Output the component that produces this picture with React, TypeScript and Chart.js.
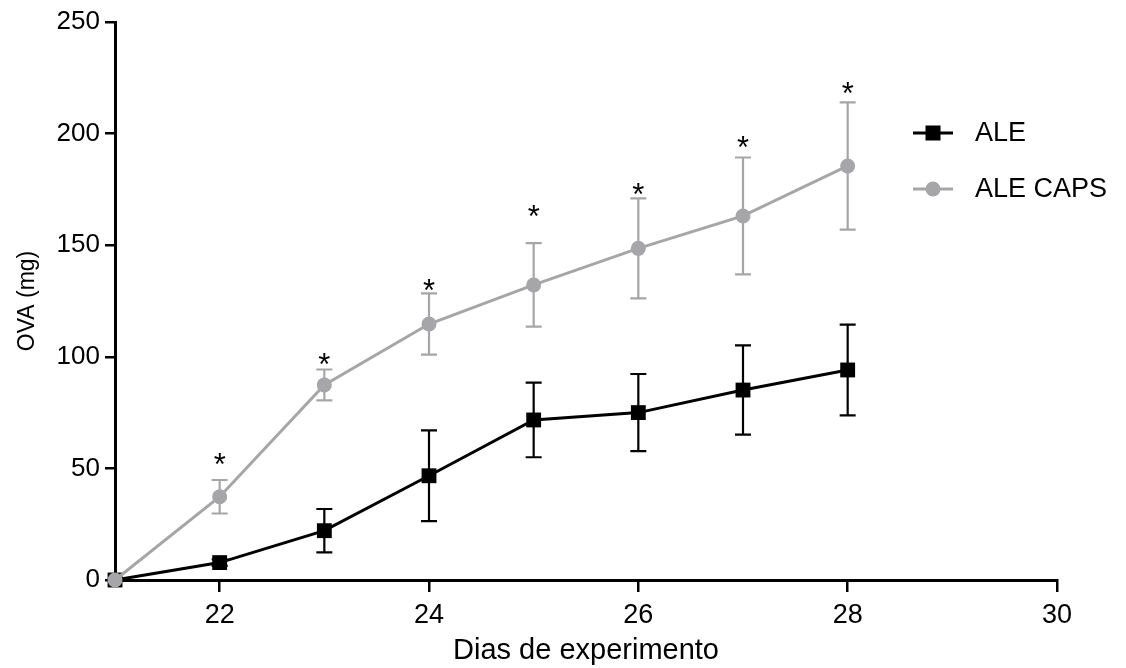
import { useEffect, useRef } from 'react';
import { Chart, registerables } from 'chart.js';

Chart.register(...registerables);

// ---- data ----
const days = [21, 22, 23, 24, 25, 26, 27, 28];
const aleMean = [0, 7.8, 22.1, 46.7, 71.7, 75.0, 85.1, 94.1];
const aleSem = [0, 1.5, 9.7, 20.3, 16.7, 17.3, 20.0, 20.3];
const capsMean = [0, 37.3, 87.4, 114.7, 132.2, 148.6, 163.1, 185.5];
const capsSem = [0, 7.5, 6.9, 13.7, 18.7, 22.4, 26.2, 28.5];
const capsStarLevel = [null, 55.1, 99.9, 133.0, 166.2, 176.1, 197.1, 221.3];
const xTicks = [22, 24, 26, 28, 30];
const yTicks = [0, 50, 100, 150, 200, 250];
const seriesLabels = ['ALE', 'ALE CAPS'];
const xTitle = 'Dias de experimento';
const yTitle = 'OVA (mg)';

const BLACK = '#000000';
const GREY = '#a6a6a8';
const FONT = '"Liberation Sans", Arial, sans-serif';

function drawMarker(ctx: CanvasRenderingContext2D, style: string, x: number, y: number, color: string) {
  ctx.save();
  ctx.fillStyle = color;
  if (style === 'rect') {
    ctx.fillRect(x - 7.5, y - 7.5, 15, 15);
  } else {
    ctx.beginPath();
    ctx.arc(x, y, 7.5, 0, Math.PI * 2);
    ctx.fill();
  }
  ctx.restore();
}

const errorBarsPlugin = {
  id: 'errorBars',
  beforeDatasetsDraw(chart: any) {
    const { ctx, scales } = chart;
    const x = scales.x;
    const y = scales.y;
    chart.data.datasets.forEach((ds: any) => {
      const sem: number[] = ds.sem;
      const mean: number[] = ds.mean;
      ctx.save();
      ctx.strokeStyle = ds.borderColor;
      ctx.lineWidth = 2.2;
      mean.forEach((v: number, i: number) => {
        const e = sem[i];
        if (!e) return;
        const px = x.getPixelForValue(days[i]);
        const top = y.getPixelForValue(v + e);
        const bot = y.getPixelForValue(v - e);
        ctx.beginPath();
        ctx.moveTo(px, top);
        ctx.lineTo(px, bot);
        ctx.moveTo(px - 8, top);
        ctx.lineTo(px + 8, top);
        ctx.moveTo(px - 8, bot);
        ctx.lineTo(px + 8, bot);
        ctx.stroke();
      });
      ctx.restore();
    });
  },
};

const starsPlugin = {
  id: 'stars',
  afterDatasetsDraw(chart: any) {
    const { ctx, scales } = chart;
    const size = 31;
    ctx.save();
    ctx.fillStyle = BLACK;
    ctx.font = `${size}px ${FONT}`;
    ctx.textAlign = 'center';
    ctx.textBaseline = 'alphabetic';
    capsStarLevel.forEach((lv, i) => {
      if (lv == null) return;
      const px = scales.x.getPixelForValue(days[i]);
      const py = scales.y.getPixelForValue(lv);
      ctx.fillText('*', px, py + size * 0.57);
    });
    ctx.restore();
  },
};

const legendPlugin = {
  id: 'customLegend',
  afterDraw(chart: any) {
    const { ctx, chartArea } = chart;
    const rows = [
      { label: seriesLabels[0], color: BLACK, style: 'rect', dy: 111 },
      { label: seriesLabels[1], color: GREY, style: 'circle', dy: 167 },
    ];
    ctx.save();
    rows.forEach((r) => {
      const y = chartArea.top + r.dy;
      const x0 = chartArea.right - 144;
      const x1 = chartArea.right - 104;
      ctx.strokeStyle = r.color;
      ctx.lineWidth = 3;
      ctx.beginPath();
      ctx.moveTo(x0, y);
      ctx.lineTo(x1, y);
      ctx.stroke();
      drawMarker(ctx, r.style, (x0 + x1) / 2, y, r.color);
      ctx.fillStyle = BLACK;
      ctx.font = `27px ${FONT}`;
      ctx.textAlign = 'left';
      ctx.textBaseline = 'middle';
      ctx.fillText(r.label, chartArea.right - 82, y + 1);
    });
    ctx.restore();
  },
};

export default function App() {
  const canvasRef = useRef<HTMLCanvasElement | null>(null);

  useEffect(() => {
    document.body.style.margin = '0';
    const canvas = canvasRef.current;
    if (!canvas) return;
    const chart = new Chart(canvas, {
      type: 'line',
      data: {
        labels: days,
        datasets: [
          {
            label: seriesLabels[0],
            data: days.map((d, i) => ({ x: d, y: aleMean[i] })),
            mean: aleMean,
            sem: aleSem,
            borderColor: BLACK,
            backgroundColor: BLACK,
            borderWidth: 3,
            pointStyle: 'rect',
            pointRadius: 10.5,
            pointBorderWidth: 0,
            pointHoverRadius: 10.5,
            tension: 0,
            clip: false,
            order: 1,
          } as any,
          {
            label: seriesLabels[1],
            data: days.map((d, i) => ({ x: d, y: capsMean[i] })),
            mean: capsMean,
            sem: capsSem,
            borderColor: GREY,
            backgroundColor: GREY,
            borderWidth: 3,
            pointStyle: 'circle',
            pointRadius: 7.5,
            pointBorderWidth: 0,
            pointHoverRadius: 7.5,
            tension: 0,
            clip: false,
            order: 0,
          } as any,
        ],
      },
      options: {
        animation: false,
        responsive: false,
        devicePixelRatio: 1,
        layout: { padding: { left: 0, top: 22, right: 69, bottom: 0 } },
        plugins: { legend: { display: false }, tooltip: { enabled: false } },
        scales: {
          x: {
            type: 'linear',
            min: 21,
            max: 30,
            afterBuildTicks: (s: any) => {
              s.ticks = xTicks.map((v) => ({ value: v }));
            },
            afterFit: (s: any) => {
              s.height = 88;
            },
            grid: { drawOnChartArea: false, drawTicks: true, tickLength: 12, color: BLACK, lineWidth: 2.5 },
            border: { display: true, color: BLACK, width: 3 },
            ticks: { color: BLACK, font: { family: FONT, size: 27 }, padding: 7, maxRotation: 0, autoSkip: false },
            title: {
              display: true,
              text: xTitle,
              color: BLACK,
              font: { family: FONT, size: 29, lineHeight: 1 },
              padding: { top: 0, bottom: 3 },
            },
          },
          y: {
            type: 'linear',
            min: 0,
            max: 250,
            afterBuildTicks: (s: any) => {
              s.ticks = yTicks.map((v) => ({ value: v }));
            },
            afterFit: (s: any) => {
              s.width = 115;
            },
            grid: { drawOnChartArea: false, drawTicks: true, tickLength: 10, color: BLACK, lineWidth: 2.5 },
            border: { display: true, color: BLACK, width: 3 },
            ticks: { color: BLACK, font: { family: FONT, size: 26 }, padding: 5 },
            title: {
              display: true,
              text: yTitle,
              color: BLACK,
              font: { family: FONT, size: 23, lineHeight: 1.2 },
              padding: { top: 14, bottom: 0 },
            },
          },
        },
      },
      plugins: [errorBarsPlugin, starsPlugin, legendPlugin],
    } as any);
    return () => chart.destroy();
  }, []);

  return (
    <div style={{ width: 1126, height: 668 }}>
      <canvas ref={canvasRef} width={1126} height={668} style={{ display: 'block' }} />
    </div>
  );
}
